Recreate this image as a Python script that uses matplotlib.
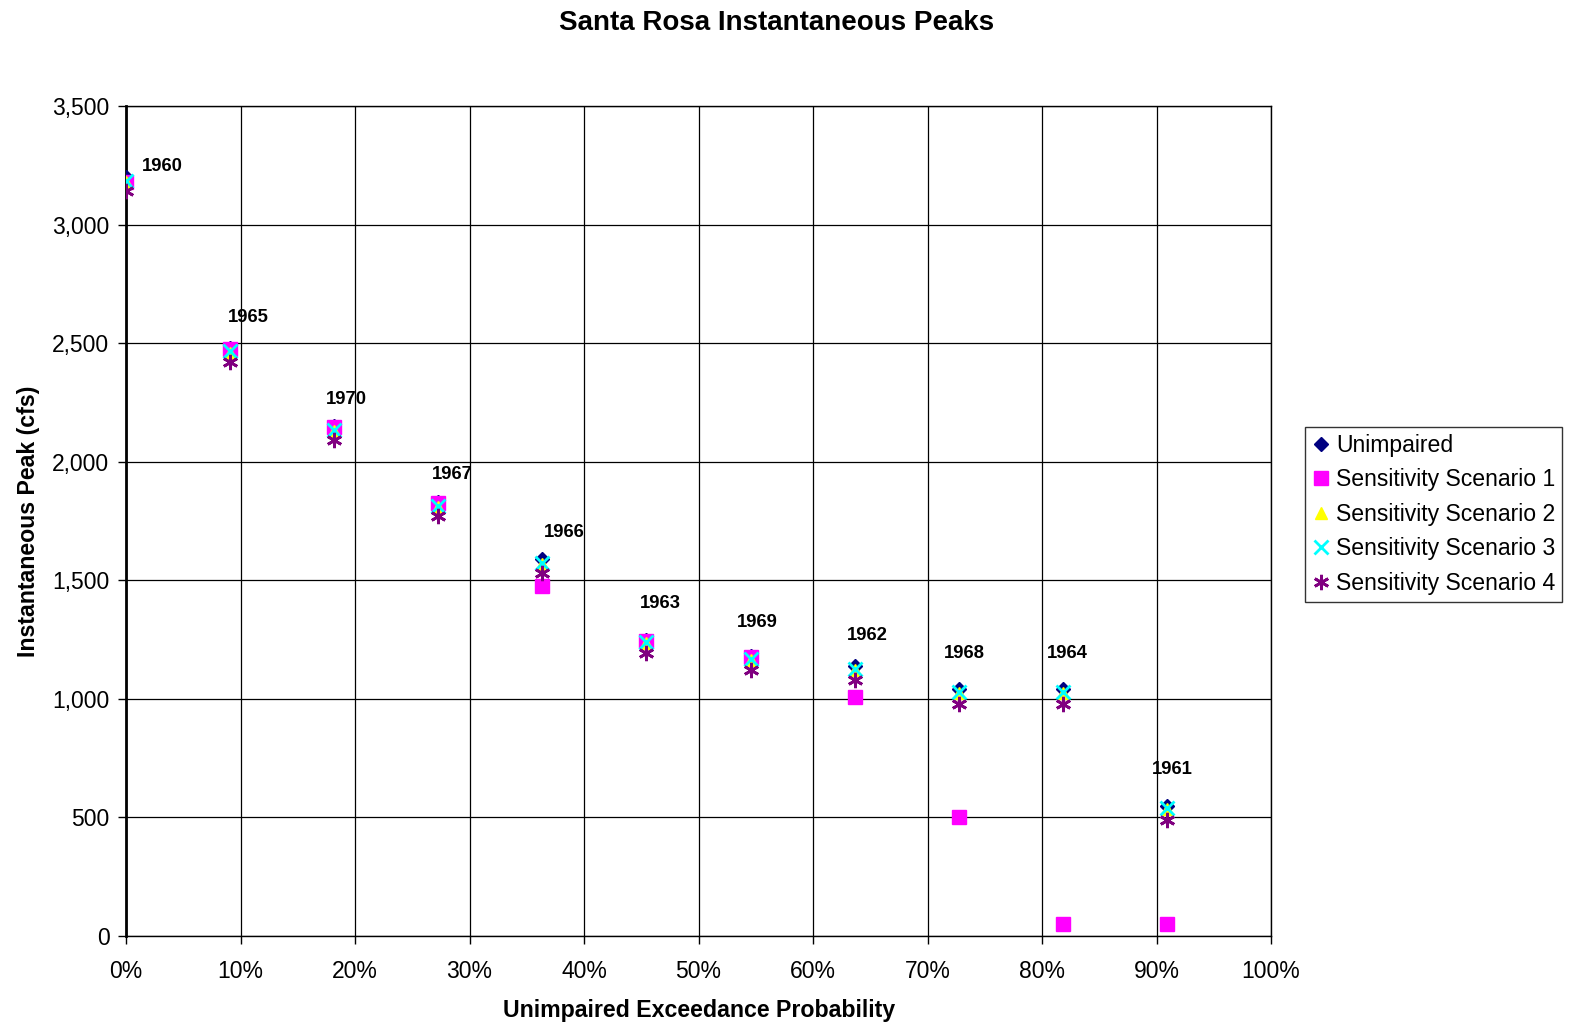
import numpy as np
import matplotlib.pyplot as plt
from matplotlib.ticker import FuncFormatter, PercentFormatter

plt.rcParams['font.family'] = ['Liberation Sans', 'DejaVu Sans']

years = [1960, 1965, 1970, 1967, 1966, 1963, 1969, 1962, 1968, 1964, 1961]
exceedance = [0.0, 9.09, 18.18, 27.27, 36.36, 45.45, 54.55, 63.64, 72.73, 81.82, 90.91]

unimpaired = [3200, 2480, 2150, 1830, 1590, 1250, 1180, 1140, 1040, 1040, 550]
scenario1 = [3180, 2475, 2145, 1825, 1475, 1245, 1175, 1010, 500, 50, 50]
scenario2 = [3180, 2460, 2130, 1810, 1570, 1235, 1165, 1120, 1025, 1025, 535]
scenario3 = [3185, 2465, 2135, 1815, 1575, 1240, 1170, 1125, 1030, 1030, 540]
scenario4 = [3140, 2420, 2090, 1770, 1530, 1195, 1120, 1080, 980, 980, 490]

# label offsets (points) for the year tags
label_dx = [26, 13, 9, 10, 16, 10, 5, 9, 4, 3, 4]
label_dy = [8, 22, 19, 20, 19, 26, 24, 22, 26, 26, 26]

fig = plt.figure(figsize=(15.7, 10.24), dpi=100)
ax = fig.add_axes([0.0803, 0.0859, 0.7293, 0.8106])

ax.plot(exceedance, unimpaired, linestyle='none', marker='D', markersize=7,
        color='#000080', label='Unimpaired', zorder=3)
ax.plot(exceedance, scenario1, linestyle='none', marker='s', markersize=10,
        color='#FF00FF', label='Sensitivity Scenario 1', zorder=4)
ax.plot(exceedance, scenario2, linestyle='none', marker='^', markersize=9,
        color='#FFFF00', label='Sensitivity Scenario 2', zorder=5)
ax.plot(exceedance, scenario3, linestyle='none', marker='x', markersize=10,
        markeredgewidth=2, color='#00FFFF', label='Sensitivity Scenario 3', zorder=6)
ax.plot(exceedance, scenario4, linestyle='none', marker=(6, 2, 0), markersize=11,
        markeredgewidth=2, color='#800080', label='Sensitivity Scenario 4', zorder=7)

for x, y, yr, dx, dy in zip(exceedance, unimpaired, years, label_dx, label_dy):
    ax.annotate(str(yr), (x, y), xytext=(dx, dy), textcoords='offset points',
                ha='center', va='center', fontsize=13.3, fontweight='bold')

ax.set_xlim(0, 100)
ax.set_ylim(0, 3500)
ax.set_xticks(np.arange(0, 101, 10))
ax.set_yticks(np.arange(0, 3501, 500))
ax.xaxis.set_major_formatter(PercentFormatter(decimals=0))
ax.yaxis.set_major_formatter(FuncFormatter(lambda v, p: f'{v:,.0f}'))
ax.tick_params(labelsize=16.5, direction='out', length=6, width=1, color='black')
ax.tick_params(axis='x', pad=11)
ax.tick_params(axis='y', pad=6)
ax.grid(True, color='black', linewidth=0.9)
ax.set_axisbelow(True)

for s in ax.spines.values():
    s.set_linewidth(1)
    s.set_color('black')
ax.spines['left'].set_linewidth(2)

ax.set_xlabel('Unimpaired Exceedance Probability', fontsize=16.7, fontweight='bold', labelpad=12)
ax.set_ylabel('Instantaneous Peak (cfs)', fontsize=16.7, fontweight='bold', labelpad=9)
fig.text(0.4946, 0.978, 'Santa Rosa Instantaneous Peaks', ha='center', va='center',
         fontsize=20, fontweight='bold')

leg = fig.legend(loc='center left', bbox_to_anchor=(0.8312, 0.4976), fontsize=16.6,
                 frameon=True, fancybox=False, edgecolor='black', handlelength=0.8,
                 handletextpad=0.25, borderpad=0.3, labelspacing=0.5, borderaxespad=0)
leg.get_frame().set_linewidth(1)

fig.savefig('out.png', dpi=100, facecolor='white')
